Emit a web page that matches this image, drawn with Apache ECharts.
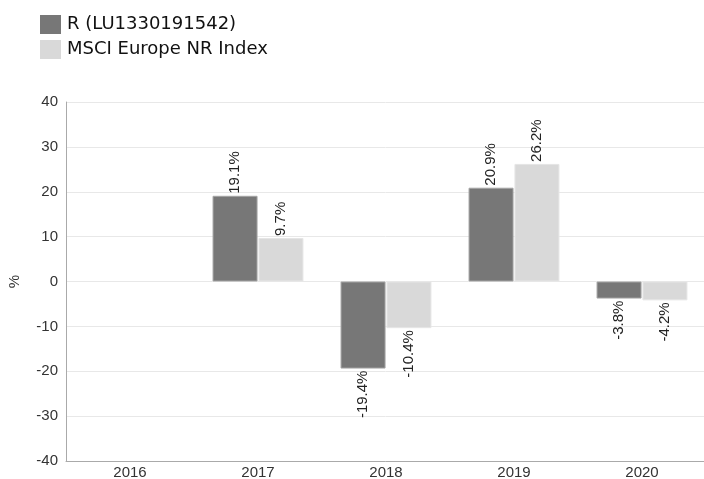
<!DOCTYPE html>
<html>
<head>
<meta charset="utf-8">
<script src="https://cdn.jsdelivr.net/npm/echarts@6/dist/echarts.min.js"></script>
<style>
  html, body { margin: 0; padding: 0; background: #fff; }
  #main { width: 704px; height: 479px; }
</style>
</head>
<body>
<div id="main"></div>
<script>
var years = ['2016', '2017', '2018', '2019', '2020'];
var fundName = 'R (LU1330191542)';
var indexName = 'MSCI Europe NR Index';
var fundValues = [null, 19.1, -19.4, 20.9, -3.8];
var indexValues = [null, 9.7, -10.4, 26.2, -4.2];
var yTicks = [-40, -30, -20, -10, 0, 10, 20, 30, 40];

function withLabels(values) {
	return values.map(function (v) {
		if (v === null) return null;
		var pos = v >= 0;
		return {
			value: v,
			label: {
				position: pos ? 'top' : 'bottom',
				align: pos ? 'left' : 'right'
			}
		};
	});
}

var chart = echarts.init(document.getElementById('main'));

var barLabel = {
	show: true,
	rotate: 90,
	verticalAlign: 'middle',
	distance: 2,
	fontFamily: 'Liberation Sans, Arial',
	fontSize: 15,
	color: '#222',
	formatter: function (p) { return p.value.toFixed(1) + '%'; }
};

var option = {
	animation: false,
	legend: {
		orient: 'vertical',
		left: 35,
		top: 10,
		itemWidth: 21,
		itemHeight: 19,
		itemGap: 6,
		icon: 'rect',
		itemStyle: { borderWidth: 0 },
		textStyle: {
			fontFamily: 'DejaVu Sans',
			fontSize: 18,
			color: '#111',
			padding: [0, 0, 0, 1]
		},
		data: [fundName, indexName]
	},
	grid: {
		left: 66,
		top: 102,
		width: 640,
		bottom: 18,
		outerBoundsMode: 'none'
	},
	xAxis: {
		type: 'category',
		data: years,
		axisLine: { onZero: false, lineStyle: { color: '#aaa' } },
		axisTick: { show: false },
		axisLabel: {
			fontFamily: 'Liberation Sans, Arial',
			fontSize: 15,
			color: '#333',
			margin: 4
		}
	},
	yAxis: {
		type: 'value',
		min: yTicks[0],
		max: yTicks[yTicks.length - 1],
		interval: 10,
		name: '%',
		nameLocation: 'middle',
		nameGap: 44,
		nameRotate: 90,
		nameTextStyle: {
			fontFamily: 'Liberation Sans, Arial',
			fontSize: 15,
			color: '#333'
		},
		axisLine: { show: true, lineStyle: { color: '#aaa' } },
		axisTick: { show: false },
		splitLine: { lineStyle: { color: '#e8e8e8' } },
		axisLabel: {
			fontFamily: 'Liberation Sans, Arial',
			fontSize: 15,
			color: '#333',
			margin: 8
		}
	},
	series: [
		{
			name: fundName,
			type: 'bar',
			data: withLabels(fundValues),
			barWidth: 45,
			barGap: '2%',
			itemStyle: { color: '#777777', borderColor: '#a5a5a5', borderWidth: 1 },
			label: barLabel
		},
		{
			name: indexName,
			type: 'bar',
			data: withLabels(indexValues),
			barWidth: 45,
			itemStyle: { color: '#d9d9d9', borderColor: '#e6e6e6', borderWidth: 1 },
			label: barLabel
		}
	]
};

chart.setOption(option);
</script>
</body>
</html>
